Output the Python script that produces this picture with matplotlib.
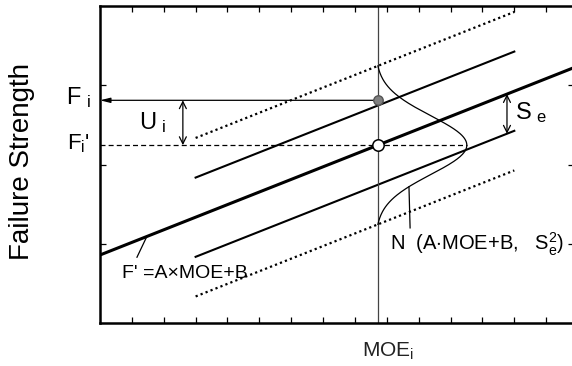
import numpy as np
import matplotlib.pyplot as plt

plt.rcParams['font.family'] = ['Liberation Sans', 'DejaVu Sans']
plt.rcParams['mathtext.fontset'] = 'custom'
plt.rcParams['mathtext.rm'] = 'Liberation Sans'

# regression model F' = A*MOE + B and its scatter
A = 0.159
B = 0.858
Se = 0.5
band_x = [3.0, 13.0]          # extent of the +-Se and +-2Se lines
fit_x = [0.0, 15.0]           # extent of the fitted line

# one specimen
moe_i = 8.72
f_i = 2.81
f_pred = A * moe_i + B        # F_i'

# bell curve drawn sideways at MOE_i
curve_sigma = 0.37
curve_half = 1.0
curve_height = 2.79

x_ticks = list(range(1, 15))
y_ticks = [1, 2, 3]

fig = plt.figure(figsize=(5.72, 3.66), dpi=100)
ax = fig.add_axes([100 / 572, 43 / 366, 474 / 572, 317 / 366])
ax.set_xlim(0, 474 / 31.87)
ax.set_ylim(0, 4)

for s in ax.spines.values():
    s.set_linewidth(1.8)
ax.set_xticks(x_ticks)
ax.set_yticks(y_ticks)
ax.tick_params(direction='in', length=4, width=0.9, top=True, right=True,
               labelbottom=False, labelleft=False)

# fitted line and the bands
xf = np.array(fit_x)
ax.plot(xf, A * xf + B, color='black', lw=2.2, solid_capstyle='butt')
xb = np.array(band_x)
for k in (-1, 1):
    ax.plot(xb, A * xb + B + k * Se, color='black', lw=1.5)
    ax.plot(xb, A * xb + B + 2 * k * Se, color='black', lw=1.6,
            linestyle=(0, (1, 1.4)))

# vertical line at MOE_i
ax.axvline(moe_i, color='#444444', lw=0.9, zorder=2)

# sideways normal curve
yy = np.linspace(f_pred - curve_half, f_pred + curve_half, 200)
g = np.exp(-0.5 * ((yy - f_pred) / curve_sigma) ** 2)
g_end = g[0]
xx = moe_i + curve_height * (g - g_end) / (1 - g_end)
ax.plot(xx, yy, color='black', lw=0.9)

# horizontal guides
ax.plot([0, moe_i + curve_height], [f_pred, f_pred], color='black', lw=0.9,
        linestyle=(0, (4, 2.5)))
ax.annotate('', xy=(0.0, f_i), xytext=(moe_i, f_i),
            arrowprops=dict(arrowstyle='-|>,head_length=0.6,head_width=0.15',
                            color='black', lw=0.9, shrinkA=0, shrinkB=0))

# points
ax.plot(moe_i, f_i, 'o', ms=6.8, mfc='#808080', mec='#555555', mew=1, zorder=4)
ax.plot(moe_i, f_pred, 'o', ms=8.2, mfc='white', mec='black', mew=1.1, zorder=4)

# U_i and S_e arrows
arr = dict(arrowstyle='<->,head_length=0.5,head_width=0.25', color='black',
           lw=0.9, shrinkA=0, shrinkB=0)
ui_x = 2.6
ax.annotate('', xy=(ui_x, f_i), xytext=(ui_x, f_pred), arrowprops=arr)
ax.text(1.66, 2.53, r'U$\mathregular{_{\ i}}$', fontsize=17, ha='center', va='center')

se_x = 12.77
ax.annotate('', xy=(se_x, A * se_x + B), xytext=(se_x, A * se_x + B - Se),
            arrowprops=arr)
ax.text(13.02, 2.65, r'S$\mathregular{_{\ e}}$', fontsize=17, ha='left', va='center')

# labels on the left of the axis
ax.text(-0.69, 2.84, r'F$\mathregular{_{\ i}}$', fontsize=17, ha='center',
        va='center', clip_on=False)
ax.text(-0.69, f_pred + 0.02, r"F$\mathregular{_i}$'", fontsize=16, ha='center',
        va='center', clip_on=False)

# formula labels with leader lines
ax.text(0.69, 0.63, "F' =A\u00d7MOE+B", fontsize=14, ha='left', va='center')
lx = 1.47
ax.plot([1.16, lx], [0.83, A * lx + B], color='black', lw=0.9)

ax.text(9.1, 0.99, r'N  (A$\cdot$MOE+B,   S$\mathregular{_e^2}$)', fontsize=14.5,
        ha='left', va='center', clip_on=False)
ny = 1.72
nx = moe_i + curve_height * (np.exp(-0.5 * ((ny - f_pred) / curve_sigma) ** 2)
                             - g_end) / (1 - g_end)
ax.plot([9.73, nx], [1.2, ny], color='black', lw=0.9)

fig.text(22 / 572, 1 - 161 / 366, 'Failure Strength', rotation=90, fontsize=20,
         ha='center', va='center')
fig.text(388 / 572, 1 - 351 / 366, r'MOE$\mathregular{_i}$', fontsize=15,
         ha='center', va='center', color='#222222')

fig.savefig('out.png', dpi=100)
